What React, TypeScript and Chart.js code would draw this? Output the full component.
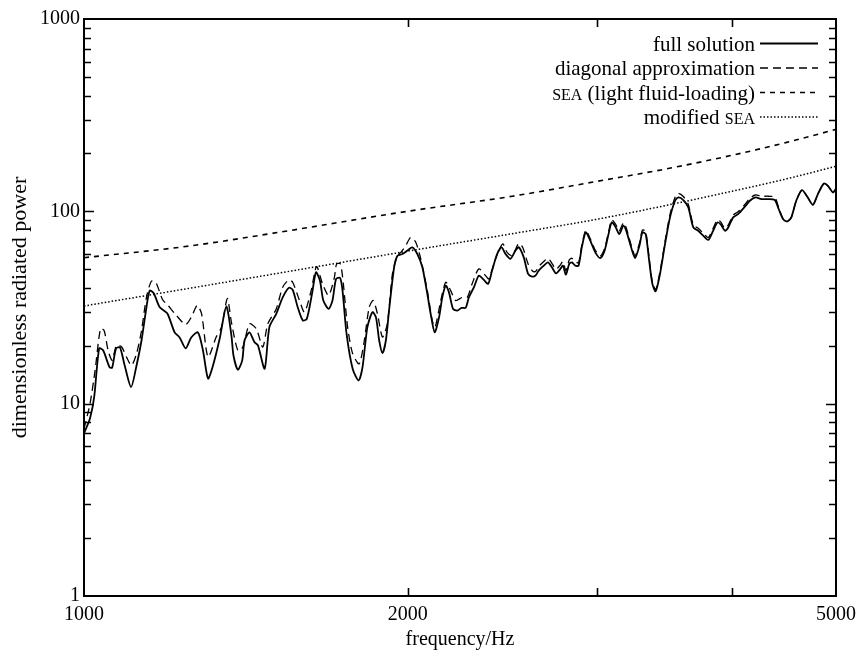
import React, { useEffect, useRef } from 'react';
import { Chart, registerables } from 'chart.js';

Chart.register(...registerables);

// Full solution: frequency (Hz) and dimensionless radiated power
const freqFull = [
  1000, 1013, 1022, 1033, 1042, 1056, 1062, 1071, 1080, 1091,
  1106, 1119, 1131, 1143, 1151, 1161, 1176, 1195, 1214, 1227,
  1243, 1258, 1276, 1290, 1304, 1318, 1337, 1356, 1371, 1377,
  1390, 1403, 1410, 1425, 1440, 1451, 1472, 1487, 1509, 1530,
  1550, 1563, 1580, 1597, 1611, 1629, 1643, 1657, 1669, 1688,
  1702, 1715, 1730, 1739, 1754, 1777, 1800, 1815, 1834, 1854,
  1868, 1881, 1894, 1908, 1921, 1942, 1956, 1977, 1998, 2019,
  2041, 2063, 2085, 2100, 2118, 2138, 2153, 2169, 2184, 2203,
  2223, 2244, 2263, 2279, 2304, 2328, 2353, 2375, 2395, 2421,
  2444, 2465, 2491, 2518, 2536, 2563, 2587, 2609, 2628, 2646,
  2675, 2699, 2722, 2746, 2772, 2787, 2805, 2825, 2841, 2862,
  2882, 2902, 2927, 2955, 2987, 3019, 3047, 3073, 3094, 3121,
  3144, 3173, 3195, 3225, 3253, 3283, 3304, 3327, 3352, 3375,
  3399, 3431, 3468, 3505, 3543, 3568, 3606, 3645, 3684, 3723,
  3763, 3804, 3844, 3880, 3908, 3942, 3970, 4012, 4055, 4114,
  4158, 4208, 4262, 4323, 4386, 4423, 4464, 4505, 4544, 4592,
  4649, 4702, 4759, 4810, 4872, 4914, 4967, 5000,
];
const powerFull = [
  7.0, 8.4, 10.8, 19.4, 18.9, 15.5, 15.4, 19.4, 19.6, 15.8,
  12.2, 15.8, 21.3, 31.7, 38.7, 37.5, 31.7, 29.5, 23.5, 22.1,
  19.4, 22.1, 23.5, 18.9, 13.5, 15.8, 21.8, 32.0, 22.6, 17.8,
  15.0, 16.8, 21.3, 23.5, 20.9, 20.1, 15.2, 25.0, 29.3, 35.7,
  40.0, 39.1, 31.7, 27.1, 27.6, 37.2, 48.2, 43.6, 34.4, 31.1,
  34.4, 44.5, 45.1, 38.7, 23.1, 15.2, 13.2, 15.5, 25.0, 29.9,
  28.1, 21.3, 18.3, 21.3, 30.5, 51.2, 58.8, 60.0, 62.5, 65.0,
  60.0, 51.2, 37.2, 29.3, 23.5, 28.1, 35.7, 41.1, 37.9, 31.1,
  30.5, 31.5, 31.5, 35.7, 40.3, 46.3, 44.0, 42.0, 49.2, 60.0,
  65.0, 60.0, 56.6, 62.5, 65.0, 57.6, 47.3, 45.8, 46.3, 49.2,
  52.2, 54.3, 51.2, 47.6, 50.2, 52.2, 46.9, 53.3, 54.3, 52.2,
  52.2, 65.0, 77.7, 70.4, 61.2, 57.2, 62.5, 76.2, 87.6, 82.5,
  76.2, 84.2, 77.7, 65.0, 57.2, 66.3, 77.7, 76.2, 55.4, 42.0,
  38.4, 47.3, 67.7, 93.0, 113.5, 118.1, 114.5, 104.8, 82.5, 79.3,
  74.7, 71.0, 79.3, 87.6, 85.2, 79.3, 82.5, 93.0, 96.8, 105.7,
  113.5, 118.1, 115.8, 115.8, 114.5, 102.8, 91.2, 88.6, 93.0, 113.5,
  129.0, 119.1, 108.2, 123.0, 139.6, 135.8, 125.3, 131.0,
];

// Diagonal approximation
const freqDiag = [
  1000, 1013, 1024, 1036, 1044, 1053, 1062, 1072, 1084, 1095,
  1107, 1119, 1131, 1143, 1155, 1166, 1183, 1197, 1219, 1243,
  1258, 1274, 1286, 1304, 1327, 1342, 1359, 1371, 1390, 1405,
  1425, 1446, 1466, 1482, 1509, 1530, 1550, 1563, 1586, 1603,
  1626, 1645, 1666, 1688, 1709, 1717, 1731, 1742, 1758, 1777,
  1802, 1822, 1841, 1857, 1874, 1894, 1914, 1935, 1956, 1970,
  1991, 2012, 2034, 2056, 2085, 2107, 2120, 2146, 2169, 2192,
  2215, 2247, 2271, 2295, 2328, 2362, 2378, 2404, 2430, 2451,
  2473, 2500, 2536, 2557, 2587, 2613,
  2628, 2646, 2675, 2699, 2722, 2746, 2772, 2787, 2805, 2825,
  2841, 2862, 2882, 2902, 2927, 2955, 2987, 3019, 3047, 3073,
  3094, 3121, 3144, 3173, 3195, 3225, 3253, 3283, 3304, 3327,
  3352, 3375, 3399, 3431, 3468, 3505, 3543, 3568, 3606, 3645,
  3684, 3723, 3763, 3804, 3844, 3880, 3908, 3942, 3970, 4012,
  4055, 4114, 4158, 4208, 4262, 4323, 4386, 4423, 4464, 4505,
  4544, 4592, 4649, 4702, 4759, 4810, 4872, 4914, 4967, 5000,
];
const powerDiag = [
  7.4, 10.0, 14.9, 24.6, 24.0, 18.9, 16.8, 20.1, 19.7, 17.5,
  15.8, 18.2, 24.0, 35.7, 43.3, 42.8, 34.8, 32.4, 28.7, 25.8,
  28.1, 32.4, 29.4, 17.5, 22.2, 25.0, 35.2, 26.5, 18.9, 19.7,
  26.0, 24.5, 19.7, 26.0, 31.1, 40.3, 44.0, 42.8, 34.4, 29.9,
  38.7, 51.6, 42.0, 36.5, 45.4, 53.3, 53.3, 42.0, 25.0, 18.2,
  16.1, 21.3, 31.7, 34.4, 29.3, 22.2, 26.0, 47.3, 58.8, 61.2,
  66.3, 73.2, 69.0, 56.6, 38.7, 27.1, 25.0, 34.4, 42.8, 38.7,
  34.4, 35.7, 35.7, 42.0, 50.2, 46.3, 44.5, 53.3, 62.5, 67.7,
  61.2, 58.8, 68.1, 65.0, 53.3, 48.8,
  48.6, 51.6, 54.8, 57.0, 53.7, 50.0, 52.7, 54.8, 49.2, 55.9,
  57.0, 54.8, 54.0, 66.5, 79.6, 72.1, 62.7, 58.7, 64.0, 78.1,
  90.2, 85.4, 79.0, 87.2, 80.5, 66.9, 58.9, 68.3, 80.0, 78.5,
  57.1, 42.8, 39.2, 48.7, 69.7, 96.3, 118.5, 124.0, 119.5, 108.5,
  85.0, 81.7, 77.0, 73.1, 81.7, 90.5, 87.8, 81.5, 84.8, 95.5,
  99.5, 108.5, 116.8, 121.6, 119.8, 119.8, 118.5, 104.5, 92.0, 89.2,
  93.0, 113.5, 129.0, 119.1, 108.2, 123.0, 139.6, 135.8, 125.3, 131.0,
];

// SEA estimates
const freqSea = [1000, 1250, 1500, 2000, 2500, 3000, 3500, 4000, 4500, 5000];
const powerSeaLight = [57.4, 65.9, 77.0, 100.1, 119.8, 143.3, 167.4, 195.5, 228.3, 266.7];
const powerSeaModified = [32.2, 39.7, 47.2, 62.1, 76.5, 91.0, 108.2, 127.1, 147.6, 171.4];

// Axis ticks
const yLabelValues = [1, 10, 100, 1000];
const yTickMarks = [
  2, 3, 4, 5, 6, 7, 8, 9, 10,
  20, 30, 40, 50, 60, 70, 80, 90, 100,
  200, 300, 400, 500, 600, 700, 800, 900,
];
const yMajorMarks = [10, 100];
const xTickValues = [1000, 2000, 3000, 4000, 5000];
const xLabelValues = [1000, 2000, 5000];
const xTickMarks = [2000, 3000, 4000];

const SERIF = '"Liberation Serif", "Times New Roman", Times, serif';

const pairs = (xs: number[], ys: number[]) => xs.map((x, i) => ({ x, y: ys[i] }));

// Right-aligned key with line samples; "SEA" is set in small capitals
const keyPlugin = {
  id: 'sampleKey',
  afterDraw(chart: any) {
    const { ctx, chartArea } = chart;
    const textRight = chartArea.right - 81;
    chart.data.datasets.forEach((ds: any, i: number) => {
      const y = chartArea.top + 24.5 + i * 24.5;
      const parts: string[] = String(ds.label).split(/(SEA)/).filter((p: string) => p.length > 0);
      const big = `21px ${SERIF}`;
      const small = `16px ${SERIF}`;
      ctx.save();
      ctx.fillStyle = '#000';
      ctx.textBaseline = 'alphabetic';
      ctx.textAlign = 'left';
      const widths = parts.map((p) => {
        ctx.font = p === 'SEA' ? small : big;
        return ctx.measureText(p).width;
      });
      let x = textRight - widths.reduce((a, b) => a + b, 0);
      parts.forEach((p, k) => {
        ctx.font = p === 'SEA' ? small : big;
        ctx.fillText(p, x, y + 7);
        x += widths[k];
      });
      ctx.strokeStyle = '#000';
      ctx.lineWidth = ds.borderWidth;
      ctx.setLineDash(ds.borderDash || []);
      ctx.beginPath();
      ctx.moveTo(chartArea.right - 76, y);
      ctx.lineTo(chartArea.right - 18, y);
      ctx.stroke();
      ctx.restore();
    });
  },
};

// Plot frame with inward tick marks on all four sides
const frameTicksPlugin = {
  id: 'frameTicks',
  afterDraw(chart: any) {
    const { ctx, chartArea: a, scales } = chart;
    const xs = scales.x;
    const ys = scales.y;
    ctx.save();
    ctx.strokeStyle = '#000';
    ctx.setLineDash([]);
    ctx.lineWidth = 1.6;
    ctx.beginPath();
    yTickMarks.forEach((v) => {
      const y = Math.round(ys.getPixelForValue(v)) + 0.5;
      const len = yMajorMarks.includes(v) ? 10 : 7;
      ctx.moveTo(a.left, y);
      ctx.lineTo(a.left + len, y);
      ctx.moveTo(a.right, y);
      ctx.lineTo(a.right - len, y);
    });
    xTickMarks.forEach((v) => {
      const x = Math.round(xs.getPixelForValue(v)) + 0.5;
      ctx.moveTo(x, a.bottom);
      ctx.lineTo(x, a.bottom - 8);
      ctx.moveTo(x, a.top);
      ctx.lineTo(x, a.top + 8);
    });
    ctx.stroke();
    ctx.lineWidth = 2;
    ctx.strokeRect(a.left, a.top, a.right - a.left, a.bottom - a.top);
    ctx.restore();
  },
};

export default function App() {
  const canvasRef = useRef<HTMLCanvasElement | null>(null);

  useEffect(() => {
    const canvas = canvasRef.current;
    if (!canvas) return;
    const chart = new Chart(canvas, {
      type: 'line',
      data: {
        datasets: [
          {
            label: 'full solution',
            data: pairs(freqFull, powerFull),
            borderColor: '#000',
            borderWidth: 1.8,
            pointRadius: 0,
            tension: 0.25,
            fill: false,
          },
          {
            label: 'diagonal approximation',
            data: pairs(freqDiag, powerDiag),
            borderColor: '#000',
            borderWidth: 1.3,
            borderDash: [8, 5],
            pointRadius: 0,
            tension: 0.25,
            fill: false,
          },
          {
            label: 'SEA (light fluid-loading)',
            data: pairs(freqSea, powerSeaLight),
            borderColor: '#000',
            borderWidth: 1.6,
            borderDash: [5, 5],
            pointRadius: 0,
            cubicInterpolationMode: 'monotone',
            fill: false,
          },
          {
            label: 'modified SEA',
            data: pairs(freqSea, powerSeaModified),
            borderColor: '#000',
            borderWidth: 1.5,
            borderDash: [1.5, 2],
            pointRadius: 0,
            cubicInterpolationMode: 'monotone',
            fill: false,
          },
        ],
      },
      options: {
        responsive: false,
        animation: false,
        events: [],
        layout: { padding: { top: 19, right: 25, left: 0, bottom: 0 } },
        plugins: {
          legend: { display: false },
          tooltip: { enabled: false },
        },
        scales: {
          x: {
            type: 'logarithmic',
            min: 1000,
            max: 5000,
            grid: { display: false, drawTicks: false },
            border: { display: false },
            afterBuildTicks: (scale: any) => {
              scale.ticks = xTickValues.map((v) => ({ value: v }));
            },
            afterFit: (scale: any) => {
              scale.height = 56;
            },
            ticks: {
              autoSkip: false,
              maxRotation: 0,
              padding: 7,
              color: '#000',
              font: { family: SERIF, size: 20 },
              callback: (v: any) => (xLabelValues.includes(Number(v)) ? String(v) : ''),
            },
            title: {
              display: true,
              text: 'frequency/Hz',
              color: '#000',
              font: { family: SERIF, size: 20 },
              padding: { top: 4, bottom: 0 },
            },
          },
          y: {
            type: 'logarithmic',
            min: 1,
            max: 1000,
            grid: { display: false, drawTicks: false },
            border: { display: false },
            afterBuildTicks: (scale: any) => {
              scale.ticks = yLabelValues.map((v) => ({ value: v }));
            },
            afterFit: (scale: any) => {
              scale.width = 84;
            },
            ticks: {
              autoSkip: false,
              padding: 4,
              color: '#000',
              font: { family: SERIF, size: 20 },
              callback: (v: any) => String(v),
            },
            title: {
              display: true,
              text: 'dimensionless radiated power',
              color: '#000',
              font: { family: SERIF, size: 22 },
              padding: { top: 7, bottom: 0 },
            },
          },
        },
      } as any,
      plugins: [frameTicksPlugin, keyPlugin],
    });
    return () => chart.destroy();
  }, []);

  return (
    <div style={{ position: 'fixed', left: 0, top: 0, width: 863, height: 652, background: '#fff' }}>
      <canvas ref={canvasRef} width={863} height={652} style={{ display: 'block' }} />
    </div>
  );
}
